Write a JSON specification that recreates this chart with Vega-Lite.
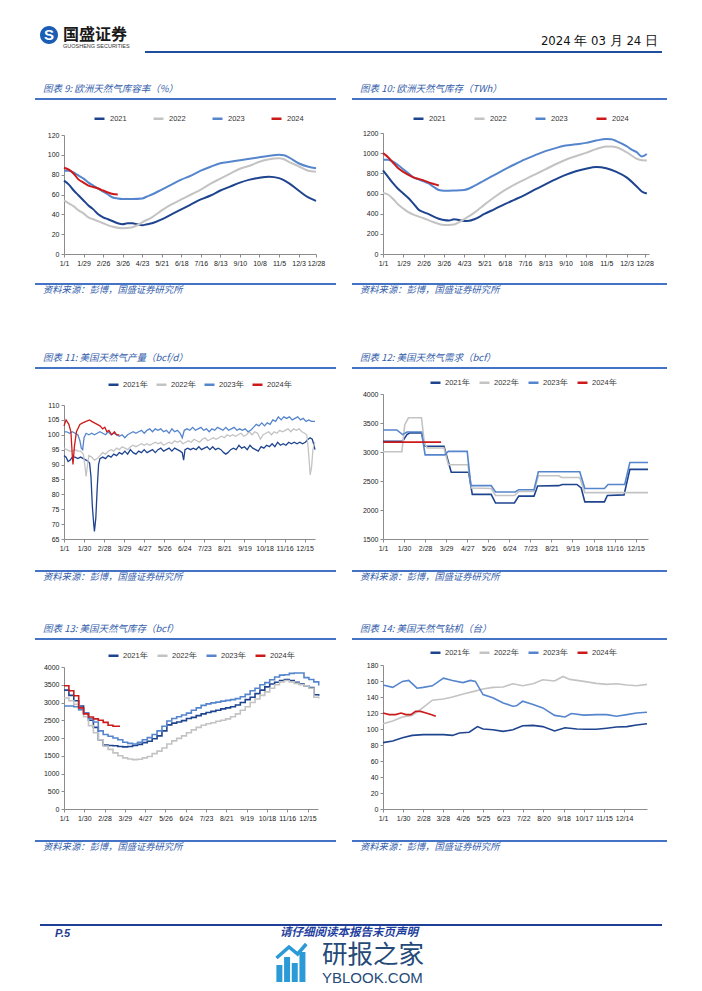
{
"$schema": "https://vega.github.io/schema/vega-lite/v6.json",
"padding": 0,
"background": "white",
"columns": 9,
"align": "each",
"bounds": "flush",
"spacing": 0,
"resolve": {"scale": {"x": "independent", "y": "independent", "color": "independent"}, "legend": {"color": "independent"}},
"concat": [
 {"width":35,"height":26,"data":{"values":[]},"mark":"point"},{"width":5,"height":1,"data":{"values":[]},"mark":"point"},
 {"width":24,"height":26,"data":{"values":[]},"mark":"point","title":{"text":"国盛证券","subtitle":"GUOSHENG SECURITIES","orient":"bottom","anchor":"start","dx":23,"offset":1,"fontSize":16,"fontWeight":"bold","font":"Noto Sans CJK SC","color":"#1a1a1a","subtitleFont":"Liberation Sans","subtitleFontSize":5.5,"subtitleColor":"#333","subtitlePadding":1}},
 {"width":254,"height":1,"data":{"values":[]},"mark":"point"},{"width":18,"height":1,"data":{"values":[]},"mark":"point"},{"width":16,"height":1,"data":{"values":[]},"mark":"point"},{"width":31,"height":1,"data":{"values":[]},"mark":"point"},{"width":266,"height":1,"data":{"values":[]},"mark":"point"},
 {"width":18,"height":26,"data":{"values":[]},"mark":"point","title":{"text":"2024 年 03 月 24 日","orient":"bottom","anchor":"end","dx":-9,"offset":9,"font":"Liberation Sans Narrow, DejaVu Sans Condensed, Liberation Sans","fontSize":13,"fontWeight":"normal","color":"#111"}},

 {"width":1,"height":18,"data":{"values":[]},"mark":"point"},{"width":1,"height":1,"data":{"values":[]},"mark":"point"},
 {"width":18,"height":18,"view":{"fill":"#1b5cb5","cornerRadius":9},"data":{"values":[{"t":"S"}]},"mark":{"type":"text","fontSize":15,"fontWeight":"bold","color":"white","font":"Liberation Sans","baseline":"middle","align":"center"},"encoding":{"text":{"field":"t"}}},
 {"width":1,"height":1,"data":{"values":[]},"mark":"point"},{"width":1,"height":1,"data":{"values":[]},"mark":"point"},{"width":1,"height":1,"data":{"values":[]},"mark":"point"},{"width":1,"height":1,"data":{"values":[]},"mark":"point"},{"width":1,"height":1,"data":{"values":[]},"mark":"point"},{"width":1,"height":1,"data":{"values":[]},"mark":"point"},

 {"width":1,"height":7,"data":{"values":[]},"mark":"point"},{"width":1,"height":1,"data":{"values":[]},"mark":"point"},{"width":1,"height":1,"data":{"values":[]},"mark":"point"},{"width":1,"height":1,"data":{"values":[]},"mark":"point"},{"width":1,"height":1,"data":{"values":[]},"mark":"point"},{"width":1,"height":1,"data":{"values":[]},"mark":"point"},{"width":1,"height":1,"data":{"values":[]},"mark":"point"},{"width":1,"height":1,"data":{"values":[]},"mark":"point"},{"width":1,"height":1,"data":{"values":[]},"mark":"point"},

 {"width":1,"height":2,"data":{"values":[]},"mark":"point"},{"width":1,"height":1,"data":{"values":[]},"mark":"point"},{"width":1,"height":1,"data":{"values":[]},"mark":"point"},
 {"width":254,"height":2,"view":{"fill":{"gradient":"linear","x1":0,"y1":0,"x2":1,"y2":0,"stops":[{"offset":0,"color":"white"},{"offset":0.3189,"color":"white"},{"offset":0.3189,"color":"#1f4e9c"},{"offset":1,"color":"#1f4e9c"}]}},"data":{"values":[]},"mark":"point"},
 {"width":18,"height":2,"view":{"fill":"#1f4e9c"},"data":{"values":[]},"mark":"point"},{"width":16,"height":2,"view":{"fill":"#1f4e9c"},"data":{"values":[]},"mark":"point"},{"width":31,"height":2,"view":{"fill":"#1f4e9c"},"data":{"values":[]},"mark":"point"},{"width":266,"height":2,"view":{"fill":"#1f4e9c"},"data":{"values":[]},"mark":"point"},{"width":13,"height":2,"view":{"fill":"#1f4e9c"},"data":{"values":[]},"mark":"point"},

 {"width":1,"height":31,"data":{"values":[]},"mark":"point"},
 {"width":5,"height":31,"data":{"values":[]},"mark":"point","title":{"text":"图表 9: 欧洲天然气库容率（%）","orient":"bottom","anchor":"start","dx":8,"offset":0,"fontSize":9.5,"fontStyle":"italic","color":"#3560ab"}},
 {"width":1,"height":1,"data":{"values":[]},"mark":"point"},{"width":1,"height":1,"data":{"values":[]},"mark":"point"},{"width":1,"height":1,"data":{"values":[]},"mark":"point"},{"width":1,"height":1,"data":{"values":[]},"mark":"point"},
 {"width":31,"height":31,"data":{"values":[]},"mark":"point","title":{"text":"图表 10: 欧洲天然气库存（TWh）","orient":"bottom","anchor":"start","dx":8,"offset":0,"fontSize":9.5,"fontStyle":"italic","color":"#3560ab"}},
 {"width":1,"height":1,"data":{"values":[]},"mark":"point"},{"width":1,"height":1,"data":{"values":[]},"mark":"point"},

 {"width":1,"height":14,"data":{"values":[]},"mark":"point"},{"width":1,"height":1,"data":{"values":[]},"mark":"point"},{"width":1,"height":1,"data":{"values":[]},"mark":"point"},{"width":1,"height":1,"data":{"values":[]},"mark":"point"},{"width":1,"height":1,"data":{"values":[]},"mark":"point"},{"width":1,"height":1,"data":{"values":[]},"mark":"point"},{"width":1,"height":1,"data":{"values":[]},"mark":"point"},{"width":1,"height":1,"data":{"values":[]},"mark":"point"},{"width":1,"height":1,"data":{"values":[]},"mark":"point"},

 {"width":1,"height":2,"data":{"values":[]},"mark":"point"},{"width":5,"height":2,"view":{"fill":"#4472c4"},"data":{"values":[]},"mark":"point"},{"width":24,"height":2,"view":{"fill":"#4472c4"},"data":{"values":[]},"mark":"point"},{"width":254,"height":2,"view":{"fill":"#4472c4"},"data":{"values":[]},"mark":"point"},{"width":18,"height":2,"view":{"fill":"#4472c4"},"data":{"values":[]},"mark":"point"},{"width":1,"height":1,"data":{"values":[]},"mark":"point"},{"width":31,"height":2,"view":{"fill":"#4472c4"},"data":{"values":[]},"mark":"point"},{"width":266,"height":2,"view":{"fill":"#4472c4"},"data":{"values":[]},"mark":"point"},{"width":18,"height":2,"view":{"fill":"#4472c4"},"data":{"values":[]},"mark":"point"},

 {"width":1,"height":10,"data":{"values":[]},"mark":"point"},{"width":1,"height":1,"data":{"values":[]},"mark":"point"},{"width":1,"height":1,"data":{"values":[]},"mark":"point"},{"width":1,"height":1,"data":{"values":[]},"mark":"point"},{"width":1,"height":1,"data":{"values":[]},"mark":"point"},{"width":1,"height":1,"data":{"values":[]},"mark":"point"},{"width":1,"height":1,"data":{"values":[]},"mark":"point"},{"width":1,"height":1,"data":{"values":[]},"mark":"point"},{"width":1,"height":1,"data":{"values":[]},"mark":"point"},

 {"width":1,"height":1,"data":{"values":[]},"mark":"point"},{"width":1,"height":1,"data":{"values":[]},"mark":"point"},{"width":1,"height":1,"data":{"values":[]},"mark":"point"},
 {"width": 252, "height": 144, "data": {"name": "c9"},
  "mark": {"type": "line", "strokeWidth": 2, "interpolate": "monotone"},
  "encoding": {
    "x": {"field": "d", "type": "quantitative", "scale": {"domain": [1, 362], "nice": false, "zero": false},
          "axis": {"title": null, "values": [1,29,57,85,113,141,169,197,225,253,281,309,337,362], "labelExpr": "timeFormat(datetime(2021,0,datum.value),'%-m/%-d')", "labelOverlap": false, "labelFlush": false, "labelBound": false}},
    "y": {"field": "v", "type": "quantitative", "scale": {"domain": [0, 120], "range": [144, 25], "nice": false},
          "axis": {"title": null, "values": [0,20,40,60,80,100,120], "format": "d"}},
    "color": {"field": "s", "type": "nominal", "scale": {"domain": ["2021","2022","2023","2024"], "range": ["#1f448f","#c3c3c3","#5585cc","#cc1a1a"]},
          "legend": {"orient": "none", "legendX": 29, "legendY": 2, "direction": "horizontal", "title": null, "columnPadding": 21}}
  }},
 {"width":1,"height":1,"data":{"values":[]},"mark":"point"},{"width":1,"height":1,"data":{"values":[]},"mark":"point"},{"width":1,"height":1,"data":{"values":[]},"mark":"point"},
 {"width": 266, "height": 144, "data": {"name": "c10"},
  "mark": {"type": "line", "strokeWidth": 2, "interpolate": "monotone"},
  "encoding": {
    "x": {"field": "d", "type": "quantitative", "scale": {"domain": [1, 368], "nice": false, "zero": false},
          "axis": {"title": null, "values": [1,29,57,85,113,141,169,197,225,253,281,309,337,362], "labelExpr": "timeFormat(datetime(2021,0,datum.value),'%-m/%-d')", "labelOverlap": false, "labelFlush": false, "labelBound": false}},
    "y": {"field": "v", "type": "quantitative", "scale": {"domain": [0, 1200], "range": [144, 23], "nice": false},
          "axis": {"title": null, "values": [0,200,400,600,800,1000,1200], "format": "d"}},
    "color": {"field": "s", "type": "nominal", "scale": {"domain": ["2021","2022","2023","2024"], "range": ["#1f448f","#c3c3c3","#5585cc","#cc1a1a"]},
          "legend": {"orient": "none", "legendX": 29, "legendY": 2, "direction": "horizontal", "title": null, "columnPadding": 23}}
  }},
 {"width":1,"height":1,"data":{"values":[]},"mark":"point"},

 {"width":1,"height":29,"data":{"values":[]},"mark":"point"},{"width":1,"height":1,"data":{"values":[]},"mark":"point"},{"width":1,"height":1,"data":{"values":[]},"mark":"point"},{"width":1,"height":1,"data":{"values":[]},"mark":"point"},{"width":1,"height":1,"data":{"values":[]},"mark":"point"},{"width":1,"height":1,"data":{"values":[]},"mark":"point"},{"width":1,"height":1,"data":{"values":[]},"mark":"point"},{"width":1,"height":1,"data":{"values":[]},"mark":"point"},{"width":1,"height":1,"data":{"values":[]},"mark":"point"},

 {"width":1,"height":2,"data":{"values":[]},"mark":"point"},
 {"width":5,"height":2,"view":{"fill":"#4472c4"},"data":{"values":[]},"mark":"point","title":{"text":"资料来源：彭博，国盛证券研究所","orient":"bottom","anchor":"start","dx":8,"offset":1,"fontSize":9.3,"fontStyle":"italic","color":"#3560ab"}},
 {"width":24,"height":2,"view":{"fill":"#4472c4"},"data":{"values":[]},"mark":"point"},{"width":254,"height":2,"view":{"fill":"#4472c4"},"data":{"values":[]},"mark":"point"},{"width":18,"height":2,"view":{"fill":"#4472c4"},"data":{"values":[]},"mark":"point"},{"width":1,"height":1,"data":{"values":[]},"mark":"point"},
 {"width":31,"height":2,"view":{"fill":"#4472c4"},"data":{"values":[]},"mark":"point","title":{"text":"资料来源：彭博，国盛证券研究所","orient":"bottom","anchor":"start","dx":8,"offset":1,"fontSize":9.3,"fontStyle":"italic","color":"#3560ab"}},
 {"width":266,"height":2,"view":{"fill":"#4472c4"},"data":{"values":[]},"mark":"point"},{"width":18,"height":2,"view":{"fill":"#4472c4"},"data":{"values":[]},"mark":"point"},

 {"width":1,"height":68,"data":{"values":[]},"mark":"point"},
 {"width":5,"height":68,"data":{"values":[]},"mark":"point","title":{"text":"图表 11: 美国天然气产量（bcf/d）","orient":"bottom","anchor":"start","dx":8,"offset":0,"fontSize":9.5,"fontStyle":"italic","color":"#3560ab"}},
 {"width":1,"height":1,"data":{"values":[]},"mark":"point"},{"width":1,"height":1,"data":{"values":[]},"mark":"point"},{"width":1,"height":1,"data":{"values":[]},"mark":"point"},{"width":1,"height":1,"data":{"values":[]},"mark":"point"},
 {"width":31,"height":68,"data":{"values":[]},"mark":"point","title":{"text":"图表 12: 美国天然气需求（bcf）","orient":"bottom","anchor":"start","dx":8,"offset":0,"fontSize":9.5,"fontStyle":"italic","color":"#3560ab"}},
 {"width":1,"height":1,"data":{"values":[]},"mark":"point"},{"width":1,"height":1,"data":{"values":[]},"mark":"point"},

 {"width":1,"height":14,"data":{"values":[]},"mark":"point"},{"width":1,"height":1,"data":{"values":[]},"mark":"point"},{"width":1,"height":1,"data":{"values":[]},"mark":"point"},{"width":1,"height":1,"data":{"values":[]},"mark":"point"},{"width":1,"height":1,"data":{"values":[]},"mark":"point"},{"width":1,"height":1,"data":{"values":[]},"mark":"point"},{"width":1,"height":1,"data":{"values":[]},"mark":"point"},{"width":1,"height":1,"data":{"values":[]},"mark":"point"},{"width":1,"height":1,"data":{"values":[]},"mark":"point"},

 {"width":1,"height":2,"data":{"values":[]},"mark":"point"},{"width":5,"height":2,"view":{"fill":"#4472c4"},"data":{"values":[]},"mark":"point"},{"width":24,"height":2,"view":{"fill":"#4472c4"},"data":{"values":[]},"mark":"point"},{"width":254,"height":2,"view":{"fill":"#4472c4"},"data":{"values":[]},"mark":"point"},{"width":18,"height":2,"view":{"fill":"#4472c4"},"data":{"values":[]},"mark":"point"},{"width":1,"height":1,"data":{"values":[]},"mark":"point"},{"width":31,"height":2,"view":{"fill":"#4472c4"},"data":{"values":[]},"mark":"point"},{"width":266,"height":2,"view":{"fill":"#4472c4"},"data":{"values":[]},"mark":"point"},{"width":18,"height":2,"view":{"fill":"#4472c4"},"data":{"values":[]},"mark":"point"},

 {"width":1,"height":7,"data":{"values":[]},"mark":"point"},{"width":1,"height":1,"data":{"values":[]},"mark":"point"},{"width":1,"height":1,"data":{"values":[]},"mark":"point"},{"width":1,"height":1,"data":{"values":[]},"mark":"point"},{"width":1,"height":1,"data":{"values":[]},"mark":"point"},{"width":1,"height":1,"data":{"values":[]},"mark":"point"},{"width":1,"height":1,"data":{"values":[]},"mark":"point"},{"width":1,"height":1,"data":{"values":[]},"mark":"point"},{"width":1,"height":1,"data":{"values":[]},"mark":"point"},

 {"width":1,"height":1,"data":{"values":[]},"mark":"point"},{"width":1,"height":1,"data":{"values":[]},"mark":"point"},{"width":1,"height":1,"data":{"values":[]},"mark":"point"},
 {"width": 251, "height": 163, "data": {"name": "c11"},
  "mark": {"type": "line", "strokeWidth": 1.3},
  "encoding": {
    "x": {"field": "d", "type": "quantitative", "scale": {"domain": [1, 364], "nice": false, "zero": false},
          "axis": {"title": null, "values": [1,30,59,88,117,146,175,204,233,262,291,320,349], "labelExpr": "timeFormat(datetime(2021,0,datum.value),'%-m/%-d')", "labelOverlap": false, "labelFlush": false, "labelBound": false}},
    "y": {"field": "v", "type": "quantitative", "scale": {"domain": [65, 110], "range": [163, 29], "nice": false, "zero": false},
          "axis": {"title": null, "values": [65,70,75,80,85,90,95,100,105,110], "format": "d"}},
    "color": {"field": "s", "type": "nominal", "scale": {"domain": ["2021年","2022年","2023年","2024年"], "range": ["#1f448f","#c3c3c3","#5585cc","#cc1a1a"]},
          "legend": {"orient": "none", "legendX": 43, "legendY": 2, "direction": "horizontal", "title": null, "columnPadding": 3, "labelOffset": 3}}
  }},
 {"width":1,"height":1,"data":{"values":[]},"mark":"point"},{"width":1,"height":1,"data":{"values":[]},"mark":"point"},{"width":1,"height":1,"data":{"values":[]},"mark":"point"},
 {"width": 265, "height": 163, "data": {"name": "c12"},
  "mark": {"type": "line", "strokeWidth": 1.6},
  "encoding": {
    "x": {"field": "d", "type": "quantitative", "scale": {"domain": [1, 366], "nice": false, "zero": false},
          "axis": {"title": null, "values": [1,30,59,88,117,146,175,204,233,262,291,320,349], "labelExpr": "timeFormat(datetime(2021,0,datum.value),'%-m/%-d')", "labelOverlap": false, "labelFlush": false, "labelBound": false}},
    "y": {"field": "v", "type": "quantitative", "scale": {"domain": [1500, 4000], "range": [163, 18], "nice": false, "zero": false},
          "axis": {"title": null, "values": [1500,2000,2500,3000,3500,4000], "format": "d"}},
    "color": {"field": "s", "type": "nominal", "scale": {"domain": ["2021年","2022年","2023年","2024年"], "range": ["#1f448f","#c3c3c3","#5585cc","#cc1a1a"]},
          "legend": {"orient": "none", "legendX": 46, "legendY": 0, "direction": "horizontal", "title": null, "columnPadding": 4, "labelOffset": 3}}
  }},
 {"width":1,"height":1,"data":{"values":[]},"mark":"point"},

 {"width":1,"height":31,"data":{"values":[]},"mark":"point"},{"width":1,"height":1,"data":{"values":[]},"mark":"point"},{"width":1,"height":1,"data":{"values":[]},"mark":"point"},{"width":1,"height":1,"data":{"values":[]},"mark":"point"},{"width":1,"height":1,"data":{"values":[]},"mark":"point"},{"width":1,"height":1,"data":{"values":[]},"mark":"point"},{"width":1,"height":1,"data":{"values":[]},"mark":"point"},{"width":1,"height":1,"data":{"values":[]},"mark":"point"},{"width":1,"height":1,"data":{"values":[]},"mark":"point"},

 {"width":1,"height":2,"data":{"values":[]},"mark":"point"},
 {"width":5,"height":2,"view":{"fill":"#4472c4"},"data":{"values":[]},"mark":"point","title":{"text":"资料来源：彭博，国盛证券研究所","orient":"bottom","anchor":"start","dx":8,"offset":1,"fontSize":9.3,"fontStyle":"italic","color":"#3560ab"}},
 {"width":24,"height":2,"view":{"fill":"#4472c4"},"data":{"values":[]},"mark":"point"},{"width":254,"height":2,"view":{"fill":"#4472c4"},"data":{"values":[]},"mark":"point"},{"width":18,"height":2,"view":{"fill":"#4472c4"},"data":{"values":[]},"mark":"point"},{"width":1,"height":1,"data":{"values":[]},"mark":"point"},
 {"width":31,"height":2,"view":{"fill":"#4472c4"},"data":{"values":[]},"mark":"point","title":{"text":"资料来源：彭博，国盛证券研究所","orient":"bottom","anchor":"start","dx":8,"offset":1,"fontSize":9.3,"fontStyle":"italic","color":"#3560ab"}},
 {"width":266,"height":2,"view":{"fill":"#4472c4"},"data":{"values":[]},"mark":"point"},{"width":18,"height":2,"view":{"fill":"#4472c4"},"data":{"values":[]},"mark":"point"},

 {"width":1,"height":52,"data":{"values":[]},"mark":"point"},
 {"width":5,"height":52,"data":{"values":[]},"mark":"point","title":{"text":"图表 13: 美国天然气库存（bcf）","orient":"bottom","anchor":"start","dx":8,"offset":0,"fontSize":9.5,"fontStyle":"italic","color":"#3560ab"}},
 {"width":1,"height":1,"data":{"values":[]},"mark":"point"},{"width":1,"height":1,"data":{"values":[]},"mark":"point"},{"width":1,"height":1,"data":{"values":[]},"mark":"point"},{"width":1,"height":1,"data":{"values":[]},"mark":"point"},
 {"width":31,"height":52,"data":{"values":[]},"mark":"point","title":{"text":"图表 14: 美国天然气钻机（台）","orient":"bottom","anchor":"start","dx":8,"offset":0,"fontSize":9.5,"fontStyle":"italic","color":"#3560ab"}},
 {"width":1,"height":1,"data":{"values":[]},"mark":"point"},{"width":1,"height":1,"data":{"values":[]},"mark":"point"},

 {"width":1,"height":14,"data":{"values":[]},"mark":"point"},{"width":1,"height":1,"data":{"values":[]},"mark":"point"},{"width":1,"height":1,"data":{"values":[]},"mark":"point"},{"width":1,"height":1,"data":{"values":[]},"mark":"point"},{"width":1,"height":1,"data":{"values":[]},"mark":"point"},{"width":1,"height":1,"data":{"values":[]},"mark":"point"},{"width":1,"height":1,"data":{"values":[]},"mark":"point"},{"width":1,"height":1,"data":{"values":[]},"mark":"point"},{"width":1,"height":1,"data":{"values":[]},"mark":"point"},

 {"width":1,"height":2,"data":{"values":[]},"mark":"point"},{"width":5,"height":2,"view":{"fill":"#4472c4"},"data":{"values":[]},"mark":"point"},{"width":24,"height":2,"view":{"fill":"#4472c4"},"data":{"values":[]},"mark":"point"},{"width":254,"height":2,"view":{"fill":"#4472c4"},"data":{"values":[]},"mark":"point"},{"width":18,"height":2,"view":{"fill":"#4472c4"},"data":{"values":[]},"mark":"point"},{"width":1,"height":1,"data":{"values":[]},"mark":"point"},{"width":31,"height":2,"view":{"fill":"#4472c4"},"data":{"values":[]},"mark":"point"},{"width":266,"height":2,"view":{"fill":"#4472c4"},"data":{"values":[]},"mark":"point"},{"width":18,"height":2,"view":{"fill":"#4472c4"},"data":{"values":[]},"mark":"point"},

 {"width":1,"height":5,"data":{"values":[]},"mark":"point"},{"width":1,"height":1,"data":{"values":[]},"mark":"point"},{"width":1,"height":1,"data":{"values":[]},"mark":"point"},{"width":1,"height":1,"data":{"values":[]},"mark":"point"},{"width":1,"height":1,"data":{"values":[]},"mark":"point"},{"width":1,"height":1,"data":{"values":[]},"mark":"point"},{"width":1,"height":1,"data":{"values":[]},"mark":"point"},{"width":1,"height":1,"data":{"values":[]},"mark":"point"},{"width":1,"height":1,"data":{"values":[]},"mark":"point"},

 {"width":1,"height":1,"data":{"values":[]},"mark":"point"},{"width":1,"height":1,"data":{"values":[]},"mark":"point"},{"width":1,"height":1,"data":{"values":[]},"mark":"point"},
 {"width": 254, "height": 164, "data": {"name": "c13"},
  "mark": {"type": "line", "strokeWidth": 1.6, "interpolate": "step-after"},
  "encoding": {
    "x": {"field": "d", "type": "quantitative", "scale": {"domain": [1, 364], "nice": false, "zero": false},
          "axis": {"title": null, "values": [1,30,59,88,117,146,175,204,233,262,291,320,349], "labelExpr": "timeFormat(datetime(2021,0,datum.value),'%-m/%-d')", "labelOverlap": false, "labelFlush": false, "labelBound": false}},
    "y": {"field": "v", "type": "quantitative", "scale": {"domain": [0, 4000], "range": [164, 22], "nice": false},
          "axis": {"title": null, "values": [0,500,1000,1500,2000,2500,3000,3500,4000], "format": "d"}},
    "color": {"field": "s", "type": "nominal", "scale": {"domain": ["2021年","2022年","2023年","2024年"], "range": ["#1f448f","#c3c3c3","#5585cc","#cc1a1a"]},
          "legend": {"orient": "none", "legendX": 43, "legendY": 4, "direction": "horizontal", "title": null, "columnPadding": 4, "labelOffset": 3}}
  }},
 {"width":1,"height":1,"data":{"values":[]},"mark":"point"},{"width":1,"height":1,"data":{"values":[]},"mark":"point"},{"width":1,"height":1,"data":{"values":[]},"mark":"point"},
 {"width": 264, "height": 164, "data": {"name": "c14"},
  "mark": {"type": "line", "strokeWidth": 1.6},
  "encoding": {
    "x": {"field": "d", "type": "quantitative", "scale": {"domain": [1, 381], "nice": false, "zero": false},
          "axis": {"title": null, "values": [1,30,59,87,116,145,174,203,232,261,290,319,348], "labelExpr": "timeFormat(datetime(2021,0,datum.value),'%-m/%-d')", "labelOverlap": false, "labelFlush": false, "labelBound": false}},
    "y": {"field": "v", "type": "quantitative", "scale": {"domain": [0, 180], "range": [164, 20], "nice": false},
          "axis": {"title": null, "values": [0,20,40,60,80,100,120,140,160,180], "format": "d"}},
    "color": {"field": "s", "type": "nominal", "scale": {"domain": ["2021年","2022年","2023年","2024年"], "range": ["#1f448f","#c3c3c3","#5585cc","#cc1a1a"]},
          "legend": {"orient": "none", "legendX": 46, "legendY": 1, "direction": "horizontal", "title": null, "columnPadding": 4, "labelOffset": 3}}
  }},
 {"width":1,"height":1,"data":{"values":[]},"mark":"point"},

 {"width":1,"height":31,"data":{"values":[]},"mark":"point"},{"width":1,"height":1,"data":{"values":[]},"mark":"point"},{"width":1,"height":1,"data":{"values":[]},"mark":"point"},{"width":1,"height":1,"data":{"values":[]},"mark":"point"},{"width":1,"height":1,"data":{"values":[]},"mark":"point"},{"width":1,"height":1,"data":{"values":[]},"mark":"point"},{"width":1,"height":1,"data":{"values":[]},"mark":"point"},{"width":1,"height":1,"data":{"values":[]},"mark":"point"},{"width":1,"height":1,"data":{"values":[]},"mark":"point"},

 {"width":1,"height":2,"data":{"values":[]},"mark":"point"},
 {"width":5,"height":2,"view":{"fill":"#4472c4"},"data":{"values":[]},"mark":"point","title":{"text":"资料来源：彭博，国盛证券研究所","orient":"bottom","anchor":"start","dx":8,"offset":1,"fontSize":9.3,"fontStyle":"italic","color":"#3560ab"}},
 {"width":24,"height":2,"view":{"fill":"#4472c4"},"data":{"values":[]},"mark":"point"},{"width":254,"height":2,"view":{"fill":"#4472c4"},"data":{"values":[]},"mark":"point"},{"width":18,"height":2,"view":{"fill":"#4472c4"},"data":{"values":[]},"mark":"point"},{"width":1,"height":1,"data":{"values":[]},"mark":"point"},
 {"width":31,"height":2,"view":{"fill":"#4472c4"},"data":{"values":[]},"mark":"point","title":{"text":"资料来源：彭博，国盛证券研究所","orient":"bottom","anchor":"start","dx":8,"offset":1,"fontSize":9.3,"fontStyle":"italic","color":"#3560ab"}},
 {"width":266,"height":2,"view":{"fill":"#4472c4"},"data":{"values":[]},"mark":"point"},{"width":18,"height":2,"view":{"fill":"#4472c4"},"data":{"values":[]},"mark":"point"},

 {"width":1,"height":82,"data":{"values":[]},"mark":"point"},{"width":1,"height":1,"data":{"values":[]},"mark":"point"},{"width":1,"height":1,"data":{"values":[]},"mark":"point"},{"width":1,"height":1,"data":{"values":[]},"mark":"point"},{"width":1,"height":1,"data":{"values":[]},"mark":"point"},{"width":1,"height":1,"data":{"values":[]},"mark":"point"},{"width":1,"height":1,"data":{"values":[]},"mark":"point"},{"width":1,"height":1,"data":{"values":[]},"mark":"point"},{"width":1,"height":1,"data":{"values":[]},"mark":"point"},

 {"width":1,"height":2,"data":{"values":[]},"mark":"point"},{"width":1,"height":1,"data":{"values":[]},"mark":"point"},
 {"width":24,"height":2,"view":{"fill":"#1f3f99"},"data":{"values":[]},"mark":"point","title":{"text":"P.5","orient":"bottom","anchor":"start","dx":15,"offset":2,"font":"Liberation Sans","fontSize":11,"fontWeight":"bold","fontStyle":"italic","color":"#1f3c8f"}},
 {"width":254,"height":2,"view":{"fill":"#1f3f99"},"data":{"values":[]},"mark":"point","title":{"text":"请仔细阅读本报告末页声明","orient":"bottom","anchor":"start","dx":216,"offset":1,"fontSize":11.5,"fontWeight":"bold","fontStyle":"italic","color":"#1f3fa0"}},
 {"width":18,"height":2,"view":{"fill":"#1f3f99"},"data":{"values":[]},"mark":"point"},{"width":16,"height":2,"view":{"fill":"#1f3f99"},"data":{"values":[]},"mark":"point"},{"width":31,"height":2,"view":{"fill":"#1f3f99"},"data":{"values":[]},"mark":"point"},{"width":266,"height":2,"view":{"fill":"#1f3f99"},"data":{"values":[]},"mark":"point"},{"width":13,"height":2,"view":{"fill":"#1f3f99"},"data":{"values":[]},"mark":"point"},

 {"width":1,"height":17,"data":{"values":[]},"mark":"point"},{"width":1,"height":1,"data":{"values":[]},"mark":"point"},{"width":1,"height":1,"data":{"values":[]},"mark":"point"},{"width":1,"height":1,"data":{"values":[]},"mark":"point"},
 {"width":18,"height":17,"data":{"values":[]},"mark":"point","title":{"text":"研报之家","subtitle":"YBLOOK.COM","orient":"bottom","anchor":"start","dx":4,"offset":0,"fontSize":25.5,"fontWeight":"normal","color":"#264a78","subtitleFont":"Liberation Sans","subtitleFontSize":15,"subtitleColor":"#264a78","subtitlePadding":2}},
 {"width":1,"height":1,"data":{"values":[]},"mark":"point"},{"width":1,"height":1,"data":{"values":[]},"mark":"point"},{"width":1,"height":1,"data":{"values":[]},"mark":"point"},{"width":1,"height":1,"data":{"values":[]},"mark":"point"},

 {"width":1,"height":1,"data":{"values":[]},"mark":"point"},{"width":1,"height":1,"data":{"values":[]},"mark":"point"},{"width":1,"height":1,"data":{"values":[]},"mark":"point"},
 {"width": 254, "height": 39,
  "layer": [
    {"data": {"values": [{"b": 5, "h": 17}, {"b": 13, "h": 25}, {"b": 21, "h": 19}, {"b": 29, "h": 30}]},
     "mark": {"type": "bar", "color": "#2b9ad6", "width": 6},
     "encoding": {"x": {"field": "b", "type": "quantitative", "axis": null, "scale": {"domain": [-214, 40], "nice": false, "zero": false}},
                  "y": {"field": "h", "type": "quantitative", "axis": null, "scale": {"domain": [0, 39], "nice": false}}}},
    {"data": {"values": [{"b": 2, "h": 24}, {"b": 15, "h": 35}, {"b": 24, "h": 28}, {"b": 33, "h": 38}]},
     "mark": {"type": "line", "color": "#2b9ad6", "strokeWidth": 3.5},
     "encoding": {"x": {"field": "b", "type": "quantitative", "axis": null},
                  "y": {"field": "h", "type": "quantitative", "axis": null}}}
  ]},
 {"width":1,"height":39,"data":{"values":[]},"mark":"point"},{"width":1,"height":1,"data":{"values":[]},"mark":"point"},{"width":1,"height":1,"data":{"values":[]},"mark":"point"},{"width":1,"height":1,"data":{"values":[]},"mark":"point"},{"width":1,"height":1,"data":{"values":[]},"mark":"point"}
],
"datasets": {
 "c9": [
  {"s":"2021","d":1,"v":74},{"s":"2021","d":8,"v":70},{"s":"2021","d":15,"v":64},{"s":"2021","d":22,"v":59},{"s":"2021","d":29,"v":54},{"s":"2021","d":36,"v":49},{"s":"2021","d":43,"v":45},{"s":"2021","d":50,"v":40},{"s":"2021","d":57,"v":37},{"s":"2021","d":64,"v":35},{"s":"2021","d":71,"v":33},{"s":"2021","d":78,"v":31},{"s":"2021","d":85,"v":30},{"s":"2021","d":92,"v":31},{"s":"2021","d":99,"v":31},{"s":"2021","d":106,"v":30},{"s":"2021","d":113,"v":29},{"s":"2021","d":120,"v":30},{"s":"2021","d":127,"v":31},{"s":"2021","d":141,"v":35},{"s":"2021","d":155,"v":40},{"s":"2021","d":169,"v":45},{"s":"2021","d":183,"v":50},{"s":"2021","d":197,"v":55},{"s":"2021","d":211,"v":59},{"s":"2021","d":225,"v":64},{"s":"2021","d":239,"v":68},{"s":"2021","d":253,"v":72},{"s":"2021","d":267,"v":75},{"s":"2021","d":281,"v":77},{"s":"2021","d":295,"v":78},{"s":"2021","d":309,"v":76.5},{"s":"2021","d":323,"v":71.5},{"s":"2021","d":337,"v":64},{"s":"2021","d":351,"v":57},{"s":"2021","d":362,"v":53.5},
  {"s":"2022","d":1,"v":54},{"s":"2022","d":8,"v":51},{"s":"2022","d":15,"v":48},{"s":"2022","d":22,"v":44},{"s":"2022","d":29,"v":41},{"s":"2022","d":36,"v":37},{"s":"2022","d":43,"v":35},{"s":"2022","d":57,"v":31},{"s":"2022","d":71,"v":27.5},{"s":"2022","d":85,"v":26},{"s":"2022","d":99,"v":27},{"s":"2022","d":106,"v":29},{"s":"2022","d":113,"v":32},{"s":"2022","d":127,"v":37},{"s":"2022","d":141,"v":44},{"s":"2022","d":155,"v":50},{"s":"2022","d":169,"v":55},{"s":"2022","d":183,"v":60},{"s":"2022","d":197,"v":65},{"s":"2022","d":211,"v":71},{"s":"2022","d":225,"v":76},{"s":"2022","d":239,"v":81},{"s":"2022","d":253,"v":86},{"s":"2022","d":267,"v":89},{"s":"2022","d":281,"v":93},{"s":"2022","d":295,"v":95.5},{"s":"2022","d":309,"v":96.5},{"s":"2022","d":316,"v":95.5},{"s":"2022","d":323,"v":93},{"s":"2022","d":337,"v":88.5},{"s":"2022","d":351,"v":84},{"s":"2022","d":362,"v":83},
  {"s":"2023","d":1,"v":84},{"s":"2023","d":8,"v":84},{"s":"2023","d":15,"v":82},{"s":"2023","d":22,"v":79},{"s":"2023","d":29,"v":76},{"s":"2023","d":36,"v":72},{"s":"2023","d":43,"v":69},{"s":"2023","d":50,"v":66},{"s":"2023","d":57,"v":63},{"s":"2023","d":64,"v":60},{"s":"2023","d":71,"v":57},{"s":"2023","d":78,"v":56},{"s":"2023","d":85,"v":55.5},{"s":"2023","d":99,"v":55.5},{"s":"2023","d":113,"v":56},{"s":"2023","d":120,"v":58},{"s":"2023","d":127,"v":60},{"s":"2023","d":141,"v":65},{"s":"2023","d":155,"v":70},{"s":"2023","d":169,"v":75},{"s":"2023","d":183,"v":79},{"s":"2023","d":197,"v":84},{"s":"2023","d":211,"v":88},{"s":"2023","d":225,"v":91.5},{"s":"2023","d":239,"v":93},{"s":"2023","d":253,"v":94.5},{"s":"2023","d":267,"v":96},{"s":"2023","d":281,"v":97.5},{"s":"2023","d":295,"v":99},{"s":"2023","d":309,"v":100},{"s":"2023","d":316,"v":99.5},{"s":"2023","d":323,"v":97.5},{"s":"2023","d":337,"v":91.5},{"s":"2023","d":351,"v":88},{"s":"2023","d":362,"v":86.5},
  {"s":"2024","d":1,"v":87},{"s":"2024","d":8,"v":85},{"s":"2024","d":15,"v":81},{"s":"2024","d":22,"v":75},{"s":"2024","d":29,"v":72},{"s":"2024","d":36,"v":69},{"s":"2024","d":43,"v":67.5},{"s":"2024","d":50,"v":66},{"s":"2024","d":57,"v":64},{"s":"2024","d":64,"v":62},{"s":"2024","d":71,"v":60.5},{"s":"2024","d":78,"v":60}
 ],
 "c10": [
  {"s":"2021","d":1,"v":830},{"s":"2021","d":8,"v":765},{"s":"2021","d":15,"v":700},{"s":"2021","d":22,"v":645},{"s":"2021","d":29,"v":600},{"s":"2021","d":36,"v":555},{"s":"2021","d":43,"v":500},{"s":"2021","d":50,"v":440},{"s":"2021","d":57,"v":415},{"s":"2021","d":64,"v":395},{"s":"2021","d":71,"v":370},{"s":"2021","d":78,"v":350},{"s":"2021","d":85,"v":337},{"s":"2021","d":92,"v":332},{"s":"2021","d":99,"v":345},{"s":"2021","d":106,"v":338},{"s":"2021","d":113,"v":328},{"s":"2021","d":120,"v":330},{"s":"2021","d":127,"v":345},{"s":"2021","d":141,"v":397},{"s":"2021","d":155,"v":445},{"s":"2021","d":169,"v":495},{"s":"2021","d":183,"v":540},{"s":"2021","d":197,"v":587},{"s":"2021","d":211,"v":640},{"s":"2021","d":225,"v":690},{"s":"2021","d":239,"v":740},{"s":"2021","d":253,"v":785},{"s":"2021","d":267,"v":820},{"s":"2021","d":281,"v":845},{"s":"2021","d":295,"v":862},{"s":"2021","d":309,"v":850},{"s":"2021","d":323,"v":815},{"s":"2021","d":337,"v":760},{"s":"2021","d":351,"v":670},{"s":"2021","d":358,"v":620},{"s":"2021","d":365,"v":600},
  {"s":"2022","d":1,"v":605},{"s":"2022","d":8,"v":590},{"s":"2022","d":15,"v":545},{"s":"2022","d":22,"v":490},{"s":"2022","d":29,"v":450},{"s":"2022","d":36,"v":415},{"s":"2022","d":43,"v":390},{"s":"2022","d":57,"v":355},{"s":"2022","d":71,"v":315},{"s":"2022","d":85,"v":288},{"s":"2022","d":92,"v":288},{"s":"2022","d":99,"v":292},{"s":"2022","d":106,"v":315},{"s":"2022","d":113,"v":345},{"s":"2022","d":127,"v":410},{"s":"2022","d":141,"v":490},{"s":"2022","d":155,"v":565},{"s":"2022","d":169,"v":633},{"s":"2022","d":183,"v":690},{"s":"2022","d":197,"v":741},{"s":"2022","d":211,"v":790},{"s":"2022","d":225,"v":839},{"s":"2022","d":239,"v":890},{"s":"2022","d":253,"v":935},{"s":"2022","d":267,"v":970},{"s":"2022","d":281,"v":1003},{"s":"2022","d":295,"v":1040},{"s":"2022","d":309,"v":1066},{"s":"2022","d":316,"v":1066},{"s":"2022","d":323,"v":1058},{"s":"2022","d":337,"v":1010},{"s":"2022","d":351,"v":945},{"s":"2022","d":358,"v":930},{"s":"2022","d":365,"v":928},
  {"s":"2023","d":1,"v":935},{"s":"2023","d":8,"v":935},{"s":"2023","d":15,"v":915},{"s":"2023","d":22,"v":880},{"s":"2023","d":29,"v":840},{"s":"2023","d":36,"v":800},{"s":"2023","d":43,"v":760},{"s":"2023","d":50,"v":740},{"s":"2023","d":57,"v":720},{"s":"2023","d":64,"v":700},{"s":"2023","d":71,"v":665},{"s":"2023","d":78,"v":635},{"s":"2023","d":85,"v":628},{"s":"2023","d":99,"v":630},{"s":"2023","d":113,"v":635},{"s":"2023","d":127,"v":675},{"s":"2023","d":141,"v":731},{"s":"2023","d":155,"v":785},{"s":"2023","d":169,"v":839},{"s":"2023","d":183,"v":890},{"s":"2023","d":197,"v":938},{"s":"2023","d":211,"v":980},{"s":"2023","d":225,"v":1020},{"s":"2023","d":239,"v":1050},{"s":"2023","d":253,"v":1075},{"s":"2023","d":267,"v":1088},{"s":"2023","d":281,"v":1102},{"s":"2023","d":295,"v":1125},{"s":"2023","d":309,"v":1140},{"s":"2023","d":316,"v":1138},{"s":"2023","d":323,"v":1120},{"s":"2023","d":337,"v":1069},{"s":"2023","d":344,"v":1035},{"s":"2023","d":351,"v":1010},{"s":"2023","d":358,"v":968},{"s":"2023","d":365,"v":992},
  {"s":"2024","d":1,"v":1000},{"s":"2024","d":8,"v":960},{"s":"2024","d":15,"v":905},{"s":"2024","d":22,"v":850},{"s":"2024","d":29,"v":815},{"s":"2024","d":36,"v":785},{"s":"2024","d":43,"v":760},{"s":"2024","d":50,"v":745},{"s":"2024","d":57,"v":730},{"s":"2024","d":64,"v":710},{"s":"2024","d":71,"v":695},{"s":"2024","d":78,"v":680}
 ],
 "c11": [
  {"s":"2021年","d":1,"v":93},{"s":"2021年","d":4,"v":92.5},{"s":"2021年","d":7,"v":91},{"s":"2021年","d":10,"v":91.5},{"s":"2021年","d":13,"v":92.5},{"s":"2021年","d":17,"v":92.5},{"s":"2021年","d":21,"v":92},{"s":"2021年","d":25,"v":92.5},{"s":"2021年","d":29,"v":92},{"s":"2021年","d":33,"v":91.5},{"s":"2021年","d":36,"v":91},{"s":"2021年","d":38,"v":90.5},{"s":"2021年","d":40,"v":86},{"s":"2021年","d":42,"v":76},{"s":"2021年","d":44,"v":70},{"s":"2021年","d":45,"v":67.5},{"s":"2021年","d":47,"v":72},{"s":"2021年","d":49,"v":82},{"s":"2021年","d":51,"v":90},{"s":"2021年","d":53,"v":92},{"s":"2021年","d":57,"v":92.5},{"s":"2021年","d":61,"v":92},{"s":"2021年","d":65,"v":93},{"s":"2021年","d":69,"v":92.5},{"s":"2021年","d":73,"v":93.5},{"s":"2021年","d":77,"v":93},{"s":"2021年","d":81,"v":94},{"s":"2021年","d":85,"v":93.5},{"s":"2021年","d":89,"v":94.5},{"s":"2021年","d":93,"v":93.5},{"s":"2021年","d":97,"v":95},{"s":"2021年","d":101,"v":94},{"s":"2021年","d":105,"v":93.5},{"s":"2021年","d":109,"v":94.5},{"s":"2021年","d":113,"v":94},{"s":"2021年","d":117,"v":95},{"s":"2021年","d":121,"v":94},{"s":"2021年","d":125,"v":94.5},{"s":"2021年","d":129,"v":95},{"s":"2021年","d":133,"v":94},{"s":"2021年","d":137,"v":95},{"s":"2021年","d":141,"v":95.5},{"s":"2021年","d":145,"v":94.5},{"s":"2021年","d":149,"v":95},{"s":"2021年","d":153,"v":95.5},{"s":"2021年","d":157,"v":94.5},{"s":"2021年","d":161,"v":95.5},{"s":"2021年","d":165,"v":95},{"s":"2021年","d":169,"v":94.5},{"s":"2021年","d":172,"v":94},{"s":"2021年","d":174,"v":91.5},{"s":"2021年","d":176,"v":95},{"s":"2021年","d":180,"v":95.5},{"s":"2021年","d":184,"v":95},{"s":"2021年","d":188,"v":95.5},{"s":"2021年","d":192,"v":95},{"s":"2021年","d":196,"v":96},{"s":"2021年","d":200,"v":95},{"s":"2021年","d":204,"v":95.5},{"s":"2021年","d":208,"v":96},{"s":"2021年","d":212,"v":95},{"s":"2021年","d":216,"v":96},{"s":"2021年","d":220,"v":95},{"s":"2021年","d":224,"v":95.5},{"s":"2021年","d":228,"v":95},{"s":"2021年","d":232,"v":94},{"s":"2021年","d":235,"v":93.5},{"s":"2021年","d":238,"v":94},{"s":"2021年","d":242,"v":95},{"s":"2021年","d":246,"v":95.5},{"s":"2021年","d":250,"v":95},{"s":"2021年","d":254,"v":96.5},{"s":"2021年","d":258,"v":95.5},{"s":"2021年","d":262,"v":96},{"s":"2021年","d":266,"v":95},{"s":"2021年","d":270,"v":96.5},{"s":"2021年","d":274,"v":95.5},{"s":"2021年","d":278,"v":95},{"s":"2021年","d":282,"v":94.5},{"s":"2021年","d":286,"v":96},{"s":"2021年","d":290,"v":95.5},{"s":"2021年","d":294,"v":96.5},{"s":"2021年","d":298,"v":96},{"s":"2021年","d":302,"v":97},{"s":"2021年","d":306,"v":96},{"s":"2021年","d":310,"v":97.5},{"s":"2021年","d":314,"v":96.5},{"s":"2021年","d":318,"v":97},{"s":"2021年","d":322,"v":96.5},{"s":"2021年","d":326,"v":97.5},{"s":"2021年","d":330,"v":97},{"s":"2021年","d":334,"v":97.5},{"s":"2021年","d":338,"v":97},{"s":"2021年","d":342,"v":97.5},{"s":"2021年","d":346,"v":97},{"s":"2021年","d":350,"v":97.5},{"s":"2021年","d":354,"v":98.5},{"s":"2021年","d":357,"v":99},{"s":"2021年","d":360,"v":98.5},{"s":"2021年","d":362,"v":97},{"s":"2021年","d":364,"v":95},
  {"s":"2022年","d":1,"v":95.5},{"s":"2022年","d":5,"v":95},{"s":"2022年","d":9,"v":94.5},{"s":"2022年","d":13,"v":94.5},{"s":"2022年","d":17,"v":95},{"s":"2022年","d":21,"v":94.5},{"s":"2022年","d":25,"v":94.5},{"s":"2022年","d":29,"v":93.5},{"s":"2022年","d":31,"v":90},{"s":"2022年","d":33,"v":86},{"s":"2022年","d":35,"v":90},{"s":"2022年","d":37,"v":93},{"s":"2022年","d":41,"v":92.5},{"s":"2022年","d":45,"v":91.5},{"s":"2022年","d":49,"v":92},{"s":"2022年","d":53,"v":93},{"s":"2022年","d":57,"v":94},{"s":"2022年","d":61,"v":93.5},{"s":"2022年","d":65,"v":94.5},{"s":"2022年","d":69,"v":95},{"s":"2022年","d":73,"v":94.5},{"s":"2022年","d":77,"v":95.5},{"s":"2022年","d":81,"v":95},{"s":"2022年","d":85,"v":96},{"s":"2022年","d":89,"v":95.5},{"s":"2022年","d":93,"v":95},{"s":"2022年","d":97,"v":96},{"s":"2022年","d":101,"v":96.5},{"s":"2022年","d":105,"v":96},{"s":"2022年","d":109,"v":96.5},{"s":"2022年","d":113,"v":97},{"s":"2022年","d":117,"v":96.5},{"s":"2022年","d":121,"v":97},{"s":"2022年","d":125,"v":96.5},{"s":"2022年","d":129,"v":97},{"s":"2022年","d":133,"v":97.5},{"s":"2022年","d":137,"v":97},{"s":"2022年","d":141,"v":97.5},{"s":"2022年","d":145,"v":96.5},{"s":"2022年","d":149,"v":97},{"s":"2022年","d":153,"v":97.5},{"s":"2022年","d":157,"v":97},{"s":"2022年","d":161,"v":98},{"s":"2022年","d":165,"v":97.5},{"s":"2022年","d":169,"v":98},{"s":"2022年","d":173,"v":97},{"s":"2022年","d":177,"v":97.5},{"s":"2022年","d":181,"v":98},{"s":"2022年","d":185,"v":97.5},{"s":"2022年","d":189,"v":98.5},{"s":"2022年","d":193,"v":98},{"s":"2022年","d":197,"v":97.5},{"s":"2022年","d":201,"v":98.5},{"s":"2022年","d":205,"v":99},{"s":"2022年","d":209,"v":98},{"s":"2022年","d":213,"v":98.5},{"s":"2022年","d":217,"v":99},{"s":"2022年","d":221,"v":98.5},{"s":"2022年","d":225,"v":99},{"s":"2022年","d":229,"v":99.5},{"s":"2022年","d":233,"v":99},{"s":"2022年","d":237,"v":100},{"s":"2022年","d":241,"v":99.5},{"s":"2022年","d":245,"v":100},{"s":"2022年","d":249,"v":99.5},{"s":"2022年","d":253,"v":100},{"s":"2022年","d":257,"v":100.5},{"s":"2022年","d":261,"v":99.5},{"s":"2022年","d":265,"v":100},{"s":"2022年","d":269,"v":101},{"s":"2022年","d":273,"v":100},{"s":"2022年","d":277,"v":101},{"s":"2022年","d":281,"v":100.5},{"s":"2022年","d":285,"v":98.5},{"s":"2022年","d":289,"v":100},{"s":"2022年","d":293,"v":100.5},{"s":"2022年","d":297,"v":101},{"s":"2022年","d":301,"v":100},{"s":"2022年","d":305,"v":101},{"s":"2022年","d":309,"v":100.5},{"s":"2022年","d":313,"v":101.5},{"s":"2022年","d":317,"v":101},{"s":"2022年","d":321,"v":101.5},{"s":"2022年","d":325,"v":102},{"s":"2022年","d":329,"v":101},{"s":"2022年","d":333,"v":102},{"s":"2022年","d":337,"v":101.5},{"s":"2022年","d":341,"v":102},{"s":"2022年","d":345,"v":101},{"s":"2022年","d":349,"v":100.5},{"s":"2022年","d":352,"v":100},{"s":"2022年","d":354,"v":96},{"s":"2022年","d":356,"v":90},{"s":"2022年","d":357,"v":86.5},{"s":"2022年","d":359,"v":89},{"s":"2022年","d":361,"v":95},{"s":"2022年","d":363,"v":97},{"s":"2022年","d":364,"v":97.5},
  {"s":"2023年","d":1,"v":101},{"s":"2023年","d":5,"v":101},{"s":"2023年","d":9,"v":100.5},{"s":"2023年","d":13,"v":101},{"s":"2023年","d":17,"v":100.5},{"s":"2023年","d":21,"v":100},{"s":"2023年","d":24,"v":98},{"s":"2023年","d":26,"v":95.5},{"s":"2023年","d":28,"v":95},{"s":"2023年","d":30,"v":99},{"s":"2023年","d":33,"v":100.5},{"s":"2023年","d":37,"v":100},{"s":"2023年","d":41,"v":100.5},{"s":"2023年","d":45,"v":100},{"s":"2023年","d":49,"v":100.5},{"s":"2023年","d":53,"v":101},{"s":"2023年","d":57,"v":100.5},{"s":"2023年","d":61,"v":100},{"s":"2023年","d":65,"v":101},{"s":"2023年","d":69,"v":100},{"s":"2023年","d":73,"v":100.5},{"s":"2023年","d":77,"v":100},{"s":"2023年","d":81,"v":99.5},{"s":"2023年","d":85,"v":100},{"s":"2023年","d":89,"v":99},{"s":"2023年","d":93,"v":100},{"s":"2023年","d":97,"v":100.5},{"s":"2023年","d":101,"v":101},{"s":"2023年","d":105,"v":100.5},{"s":"2023年","d":109,"v":101},{"s":"2023年","d":113,"v":101.5},{"s":"2023年","d":117,"v":100.5},{"s":"2023年","d":121,"v":101.5},{"s":"2023年","d":125,"v":102},{"s":"2023年","d":129,"v":101},{"s":"2023年","d":133,"v":102},{"s":"2023年","d":137,"v":101.5},{"s":"2023年","d":141,"v":102},{"s":"2023年","d":145,"v":101},{"s":"2023年","d":149,"v":101.5},{"s":"2023年","d":153,"v":100.5},{"s":"2023年","d":157,"v":102},{"s":"2023年","d":161,"v":101},{"s":"2023年","d":165,"v":101.5},{"s":"2023年","d":169,"v":100.5},{"s":"2023年","d":172,"v":99},{"s":"2023年","d":175,"v":101.5},{"s":"2023年","d":179,"v":102},{"s":"2023年","d":183,"v":101.5},{"s":"2023年","d":187,"v":102.5},{"s":"2023年","d":191,"v":101.5},{"s":"2023年","d":195,"v":102},{"s":"2023年","d":199,"v":102.5},{"s":"2023年","d":203,"v":101.5},{"s":"2023年","d":207,"v":102},{"s":"2023年","d":211,"v":101},{"s":"2023年","d":215,"v":102},{"s":"2023年","d":219,"v":101.5},{"s":"2023年","d":223,"v":102.5},{"s":"2023年","d":227,"v":102},{"s":"2023年","d":231,"v":101.5},{"s":"2023年","d":235,"v":102.5},{"s":"2023年","d":239,"v":101.5},{"s":"2023年","d":243,"v":102},{"s":"2023年","d":247,"v":102.5},{"s":"2023年","d":251,"v":101.5},{"s":"2023年","d":255,"v":102},{"s":"2023年","d":259,"v":101.5},{"s":"2023年","d":263,"v":102},{"s":"2023年","d":267,"v":101},{"s":"2023年","d":271,"v":101.5},{"s":"2023年","d":275,"v":102.5},{"s":"2023年","d":279,"v":103.5},{"s":"2023年","d":283,"v":103},{"s":"2023年","d":287,"v":104},{"s":"2023年","d":291,"v":103},{"s":"2023年","d":295,"v":104},{"s":"2023年","d":299,"v":103.5},{"s":"2023年","d":303,"v":105},{"s":"2023年","d":307,"v":104.5},{"s":"2023年","d":311,"v":106},{"s":"2023年","d":315,"v":105},{"s":"2023年","d":319,"v":106},{"s":"2023年","d":323,"v":105.5},{"s":"2023年","d":327,"v":106},{"s":"2023年","d":331,"v":105},{"s":"2023年","d":335,"v":105.5},{"s":"2023年","d":339,"v":106},{"s":"2023年","d":343,"v":105},{"s":"2023年","d":347,"v":105.5},{"s":"2023年","d":351,"v":104.5},{"s":"2023年","d":355,"v":105},{"s":"2023年","d":359,"v":104.5},{"s":"2023年","d":364,"v":104.5},
  {"s":"2024年","d":1,"v":103},{"s":"2024年","d":4,"v":105},{"s":"2024年","d":8,"v":103.5},{"s":"2024年","d":11,"v":101},{"s":"2024年","d":13,"v":93},{"s":"2024年","d":14,"v":90},{"s":"2024年","d":16,"v":96},{"s":"2024年","d":19,"v":101},{"s":"2024年","d":24,"v":103.5},{"s":"2024年","d":28,"v":104},{"s":"2024年","d":33,"v":104.5},{"s":"2024年","d":38,"v":105},{"s":"2024年","d":41,"v":104.5},{"s":"2024年","d":45,"v":104},{"s":"2024年","d":49,"v":103.5},{"s":"2024年","d":53,"v":103},{"s":"2024年","d":57,"v":102},{"s":"2024年","d":60,"v":102.5},{"s":"2024年","d":63,"v":101},{"s":"2024年","d":66,"v":101.5},{"s":"2024年","d":70,"v":100},{"s":"2024年","d":74,"v":101},{"s":"2024年","d":77,"v":100},{"s":"2024年","d":81,"v":100}
 ],
 "c12": [
  {"s":"2021年","d":1,"v":3185},{"s":"2021年","d":28,"v":3185},{"s":"2021年","d":34,"v":3300},{"s":"2021年","d":38,"v":3330},{"s":"2021年","d":54,"v":3330},{"s":"2021年","d":59,"v":3100},{"s":"2021年","d":85,"v":3100},{"s":"2021年","d":95,"v":2650},{"s":"2021年","d":119,"v":2650},{"s":"2021年","d":124,"v":2270},{"s":"2021年","d":150,"v":2270},{"s":"2021年","d":156,"v":2120},{"s":"2021年","d":182,"v":2120},{"s":"2021年","d":188,"v":2240},{"s":"2021年","d":209,"v":2240},{"s":"2021年","d":214,"v":2415},{"s":"2021年","d":243,"v":2420},{"s":"2021年","d":248,"v":2440},{"s":"2021年","d":268,"v":2440},{"s":"2021年","d":274,"v":2380},{"s":"2021年","d":279,"v":2140},{"s":"2021年","d":306,"v":2140},{"s":"2021年","d":310,"v":2250},{"s":"2021年","d":333,"v":2260},{"s":"2021年","d":341,"v":2700},{"s":"2021年","d":366,"v":2700},
  {"s":"2022年","d":1,"v":3005},{"s":"2022年","d":27,"v":3005},{"s":"2022年","d":31,"v":3470},{"s":"2022年","d":36,"v":3590},{"s":"2022年","d":54,"v":3590},{"s":"2022年","d":58,"v":3150},{"s":"2022年","d":62,"v":3070},{"s":"2022年","d":85,"v":3070},{"s":"2022年","d":91,"v":2780},{"s":"2022年","d":118,"v":2780},{"s":"2022年","d":123,"v":2380},{"s":"2022年","d":150,"v":2370},{"s":"2022年","d":156,"v":2250},{"s":"2022年","d":182,"v":2250},{"s":"2022年","d":188,"v":2320},{"s":"2022年","d":209,"v":2320},{"s":"2022年","d":215,"v":2590},{"s":"2022年","d":243,"v":2590},{"s":"2022年","d":247,"v":2560},{"s":"2022年","d":272,"v":2560},{"s":"2022年","d":279,"v":2300},{"s":"2022年","d":366,"v":2300},
  {"s":"2023年","d":1,"v":3380},{"s":"2023年","d":20,"v":3380},{"s":"2023年","d":28,"v":3300},{"s":"2023年","d":34,"v":3345},{"s":"2023年","d":54,"v":3345},{"s":"2023年","d":59,"v":2950},{"s":"2023年","d":86,"v":2950},{"s":"2023年","d":91,"v":3010},{"s":"2023年","d":117,"v":3010},{"s":"2023年","d":122,"v":2420},{"s":"2023年","d":150,"v":2420},{"s":"2023年","d":156,"v":2310},{"s":"2023年","d":183,"v":2310},{"s":"2023年","d":188,"v":2350},{"s":"2023年","d":209,"v":2350},{"s":"2023年","d":215,"v":2660},{"s":"2023年","d":272,"v":2660},{"s":"2023年","d":279,"v":2370},{"s":"2023年","d":306,"v":2370},{"s":"2023年","d":311,"v":2440},{"s":"2023年","d":334,"v":2440},{"s":"2023年","d":341,"v":2820},{"s":"2023年","d":366,"v":2820},
  {"s":"2024年","d":1,"v":3170},{"s":"2024年","d":81,"v":3170}
 ],
 "c13": [
  {"s":"2021年","d":1,"v":3350},{"s":"2021年","d":8,"v":3200},{"s":"2021年","d":15,"v":3050},{"s":"2021年","d":22,"v":2900},{"s":"2021年","d":29,"v":2700},{"s":"2021年","d":36,"v":2500},{"s":"2021年","d":43,"v":2300},{"s":"2021年","d":50,"v":1950},{"s":"2021年","d":57,"v":1800},{"s":"2021年","d":64,"v":1790},{"s":"2021年","d":71,"v":1780},{"s":"2021年","d":78,"v":1760},{"s":"2021年","d":85,"v":1750},{"s":"2021年","d":92,"v":1760},{"s":"2021年","d":99,"v":1790},{"s":"2021年","d":106,"v":1820},{"s":"2021年","d":113,"v":1870},{"s":"2021年","d":120,"v":1910},{"s":"2021年","d":127,"v":1980},{"s":"2021年","d":134,"v":2060},{"s":"2021年","d":141,"v":2200},{"s":"2021年","d":148,"v":2370},{"s":"2021年","d":155,"v":2420},{"s":"2021年","d":162,"v":2450},{"s":"2021年","d":169,"v":2490},{"s":"2021年","d":176,"v":2550},{"s":"2021年","d":183,"v":2580},{"s":"2021年","d":190,"v":2630},{"s":"2021年","d":197,"v":2680},{"s":"2021年","d":204,"v":2720},{"s":"2021年","d":211,"v":2750},{"s":"2021年","d":218,"v":2780},{"s":"2021年","d":225,"v":2820},{"s":"2021年","d":232,"v":2850},{"s":"2021年","d":239,"v":2880},{"s":"2021年","d":246,"v":2930},{"s":"2021年","d":253,"v":3000},{"s":"2021年","d":260,"v":3080},{"s":"2021年","d":267,"v":3150},{"s":"2021年","d":274,"v":3250},{"s":"2021年","d":281,"v":3350},{"s":"2021年","d":288,"v":3440},{"s":"2021年","d":295,"v":3520},{"s":"2021年","d":302,"v":3570},{"s":"2021年","d":309,"v":3620},{"s":"2021年","d":316,"v":3650},{"s":"2021年","d":323,"v":3620},{"s":"2021年","d":330,"v":3570},{"s":"2021年","d":337,"v":3520},{"s":"2021年","d":344,"v":3470},{"s":"2021年","d":351,"v":3420},{"s":"2021年","d":358,"v":3220},{"s":"2021年","d":365,"v":3190},
  {"s":"2022年","d":1,"v":3125},{"s":"2022年","d":8,"v":3050},{"s":"2022年","d":15,"v":2950},{"s":"2022年","d":22,"v":2800},{"s":"2022年","d":29,"v":2600},{"s":"2022年","d":36,"v":2350},{"s":"2022年","d":43,"v":2150},{"s":"2022年","d":50,"v":1950},{"s":"2022年","d":57,"v":1770},{"s":"2022年","d":64,"v":1680},{"s":"2022年","d":71,"v":1580},{"s":"2022年","d":78,"v":1500},{"s":"2022年","d":85,"v":1440},{"s":"2022年","d":92,"v":1410},{"s":"2022年","d":99,"v":1390},{"s":"2022年","d":106,"v":1400},{"s":"2022年","d":113,"v":1440},{"s":"2022年","d":120,"v":1480},{"s":"2022年","d":127,"v":1560},{"s":"2022年","d":134,"v":1630},{"s":"2022年","d":141,"v":1720},{"s":"2022年","d":148,"v":1830},{"s":"2022年","d":155,"v":1920},{"s":"2022年","d":162,"v":1990},{"s":"2022年","d":169,"v":2060},{"s":"2022年","d":176,"v":2150},{"s":"2022年","d":183,"v":2230},{"s":"2022年","d":190,"v":2300},{"s":"2022年","d":197,"v":2360},{"s":"2022年","d":204,"v":2400},{"s":"2022年","d":211,"v":2430},{"s":"2022年","d":218,"v":2470},{"s":"2022年","d":225,"v":2500},{"s":"2022年","d":232,"v":2540},{"s":"2022年","d":239,"v":2600},{"s":"2022年","d":246,"v":2680},{"s":"2022年","d":253,"v":2780},{"s":"2022年","d":260,"v":2880},{"s":"2022年","d":267,"v":3000},{"s":"2022年","d":274,"v":3100},{"s":"2022年","d":281,"v":3200},{"s":"2022年","d":288,"v":3300},{"s":"2022年","d":295,"v":3400},{"s":"2022年","d":302,"v":3500},{"s":"2022年","d":309,"v":3580},{"s":"2022年","d":316,"v":3620},{"s":"2022年","d":323,"v":3580},{"s":"2022年","d":330,"v":3540},{"s":"2022年","d":337,"v":3500},{"s":"2022年","d":344,"v":3470},{"s":"2022年","d":351,"v":3400},{"s":"2022年","d":358,"v":3150},{"s":"2022年","d":365,"v":3110},
  {"s":"2023年","d":1,"v":2900},{"s":"2023年","d":8,"v":2900},{"s":"2023年","d":15,"v":2880},{"s":"2023年","d":22,"v":2800},{"s":"2023年","d":29,"v":2700},{"s":"2023年","d":36,"v":2550},{"s":"2023年","d":43,"v":2450},{"s":"2023年","d":50,"v":2200},{"s":"2023年","d":57,"v":2100},{"s":"2023年","d":64,"v":2050},{"s":"2023年","d":71,"v":2000},{"s":"2023年","d":78,"v":1950},{"s":"2023年","d":85,"v":1880},{"s":"2023年","d":92,"v":1850},{"s":"2023年","d":99,"v":1830},{"s":"2023年","d":106,"v":1880},{"s":"2023年","d":113,"v":1950},{"s":"2023年","d":120,"v":2010},{"s":"2023年","d":127,"v":2100},{"s":"2023年","d":134,"v":2200},{"s":"2023年","d":141,"v":2330},{"s":"2023年","d":148,"v":2480},{"s":"2023年","d":155,"v":2550},{"s":"2023年","d":162,"v":2600},{"s":"2023年","d":169,"v":2650},{"s":"2023年","d":176,"v":2700},{"s":"2023年","d":183,"v":2780},{"s":"2023年","d":190,"v":2850},{"s":"2023年","d":197,"v":2920},{"s":"2023年","d":204,"v":2960},{"s":"2023年","d":211,"v":2990},{"s":"2023年","d":218,"v":3010},{"s":"2023年","d":225,"v":3040},{"s":"2023年","d":232,"v":3060},{"s":"2023年","d":239,"v":3080},{"s":"2023年","d":246,"v":3110},{"s":"2023年","d":253,"v":3160},{"s":"2023年","d":260,"v":3230},{"s":"2023年","d":267,"v":3330},{"s":"2023年","d":274,"v":3400},{"s":"2023年","d":281,"v":3500},{"s":"2023年","d":288,"v":3560},{"s":"2023年","d":295,"v":3640},{"s":"2023年","d":302,"v":3720},{"s":"2023年","d":309,"v":3770},{"s":"2023年","d":316,"v":3780},{"s":"2023年","d":323,"v":3820},{"s":"2023年","d":330,"v":3830},{"s":"2023年","d":337,"v":3830},{"s":"2023年","d":344,"v":3700},{"s":"2023年","d":351,"v":3650},{"s":"2023年","d":358,"v":3580},{"s":"2023年","d":365,"v":3480},
  {"s":"2024年","d":1,"v":3470},{"s":"2024年","d":8,"v":3330},{"s":"2024年","d":15,"v":3190},{"s":"2024年","d":22,"v":2850},{"s":"2024年","d":29,"v":2680},{"s":"2024年","d":36,"v":2590},{"s":"2024年","d":43,"v":2540},{"s":"2024年","d":50,"v":2500},{"s":"2024年","d":57,"v":2440},{"s":"2024年","d":64,"v":2360},{"s":"2024年","d":71,"v":2330},{"s":"2024年","d":78,"v":2330},{"s":"2024年","d":81,"v":2330}
 ],
 "c14": [
  {"s":"2021年","d":1,"v":83},{"s":"2021年","d":15,"v":85},{"s":"2021年","d":29,"v":89},{"s":"2021年","d":43,"v":92},{"s":"2021年","d":59,"v":93},{"s":"2021年","d":72,"v":93},{"s":"2021年","d":88,"v":93},{"s":"2021年","d":101,"v":92},{"s":"2021年","d":111,"v":95},{"s":"2021年","d":125,"v":96},{"s":"2021年","d":137,"v":103},{"s":"2021年","d":145,"v":100},{"s":"2021年","d":159,"v":99},{"s":"2021年","d":174,"v":97},{"s":"2021年","d":188,"v":99},{"s":"2021年","d":202,"v":104},{"s":"2021年","d":217,"v":104.5},{"s":"2021年","d":231,"v":103},{"s":"2021年","d":248,"v":97.5},{"s":"2021年","d":263,"v":101.5},{"s":"2021年","d":280,"v":100},{"s":"2021年","d":294,"v":99.6},{"s":"2021年","d":308,"v":99.6},{"s":"2021年","d":323,"v":101},{"s":"2021年","d":337,"v":102.5},{"s":"2021年","d":352,"v":103},{"s":"2021年","d":366,"v":105},{"s":"2021年","d":381,"v":106.5},
  {"s":"2022年","d":1,"v":106.6},{"s":"2022年","d":15,"v":110},{"s":"2022年","d":29,"v":115},{"s":"2022年","d":43,"v":117},{"s":"2022年","d":59,"v":127},{"s":"2022年","d":72,"v":136},{"s":"2022年","d":88,"v":137.6},{"s":"2022年","d":101,"v":140},{"s":"2022年","d":118,"v":144},{"s":"2022年","d":132,"v":147},{"s":"2022年","d":145,"v":150},{"s":"2022年","d":159,"v":152},{"s":"2022年","d":174,"v":152.5},{"s":"2022年","d":188,"v":156.6},{"s":"2022年","d":202,"v":154},{"s":"2022年","d":217,"v":156.6},{"s":"2022年","d":231,"v":161.6},{"s":"2022年","d":248,"v":160},{"s":"2022年","d":260,"v":165.7},{"s":"2022年","d":270,"v":162},{"s":"2022年","d":290,"v":159.5},{"s":"2022年","d":308,"v":157},{"s":"2022年","d":323,"v":155.8},{"s":"2022年","d":337,"v":156.6},{"s":"2022年","d":352,"v":155},{"s":"2022年","d":366,"v":154},{"s":"2022年","d":381,"v":155.8},
  {"s":"2023年","d":1,"v":155},{"s":"2023年","d":15,"v":152},{"s":"2023年","d":29,"v":159.5},{"s":"2023年","d":38,"v":160.7},{"s":"2023年","d":50,"v":151},{"s":"2023年","d":59,"v":152},{"s":"2023年","d":72,"v":154},{"s":"2023年","d":88,"v":163.6},{"s":"2023年","d":101,"v":160.7},{"s":"2023年","d":116,"v":158},{"s":"2023年","d":127,"v":160.7},{"s":"2023年","d":134,"v":159.5},{"s":"2023年","d":145,"v":143},{"s":"2023年","d":159,"v":139},{"s":"2023年","d":174,"v":132.6},{"s":"2023年","d":188,"v":128.5},{"s":"2023年","d":193,"v":129},{"s":"2023年","d":202,"v":134.7},{"s":"2023年","d":217,"v":130.6},{"s":"2023年","d":231,"v":126.4},{"s":"2023年","d":248,"v":117},{"s":"2023年","d":263,"v":115},{"s":"2023年","d":272,"v":119.4},{"s":"2023年","d":290,"v":117.4},{"s":"2023年","d":308,"v":118},{"s":"2023年","d":323,"v":118},{"s":"2023年","d":337,"v":116},{"s":"2023年","d":352,"v":118},{"s":"2023年","d":366,"v":120},{"s":"2023年","d":381,"v":121},
  {"s":"2024年","d":1,"v":120},{"s":"2024年","d":10,"v":118},{"s":"2024年","d":19,"v":118},{"s":"2024年","d":27,"v":120},{"s":"2024年","d":34,"v":118},{"s":"2024年","d":41,"v":118},{"s":"2024年","d":48,"v":122},{"s":"2024年","d":55,"v":122},{"s":"2024年","d":63,"v":120},{"s":"2024年","d":70,"v":118},{"s":"2024年","d":77,"v":116}
 ]
},
"config": {
 "view": {"stroke": null},
 "font": "Liberation Sans",
 "axis": {"labelFont": "Liberation Sans", "labelFontSize": 7, "labelColor": "#222", "domainColor": "#8c8c8c", "tickColor": "#8c8c8c", "tickSize": 3, "labelPadding": 2, "grid": false},
 "legend": {"labelFont": "Liberation Sans", "labelFontSize": 7.5, "labelColor": "#333", "symbolType": "stroke", "symbolStrokeWidth": 2.5, "symbolSize": 100, "labelOffset": 4},
 "title": {"font": "Noto Sans CJK SC", "fontWeight": "normal", "frame": "group"}
}
}
